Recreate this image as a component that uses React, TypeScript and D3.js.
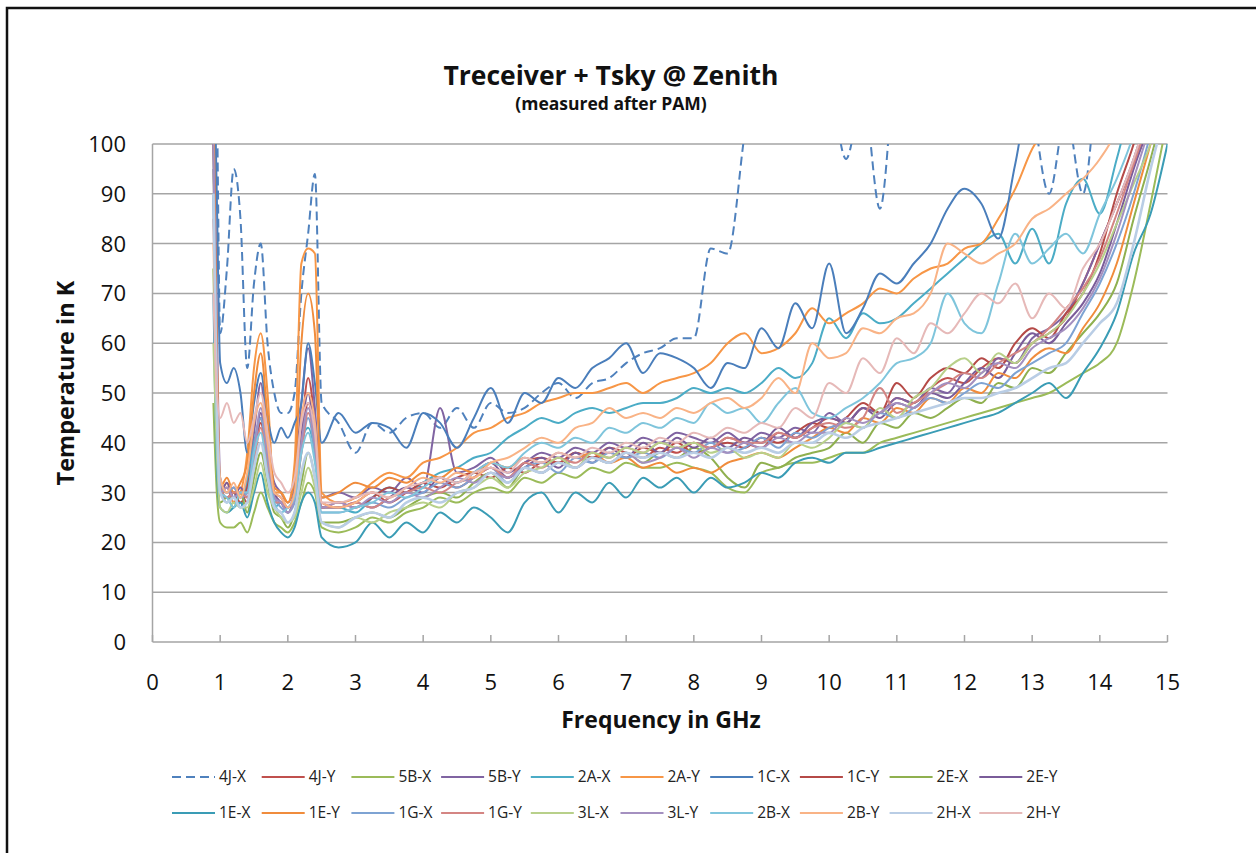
import * as d3 from 'd3';

// frequency grid in GHz (finer below 2.5 GHz where the RFI peaks sit)
const freq = [
  0.9, 0.95, 1.0, 1.1, 1.2, 1.3, 1.4, 1.5, 1.6, 1.7, 1.8, 1.9, 2.0, 2.1, 2.2, 2.3, 2.4, 2.5,
  2.75, 3.0, 3.25, 3.5, 3.75, 4.0, 4.25, 4.5, 4.75, 5.0, 5.25, 5.5, 5.75, 6.0, 6.25, 6.5, 6.75,
  7.0, 7.25, 7.5, 7.75, 8.0, 8.25, 8.5, 8.75, 9.0, 9.25, 9.5, 9.75, 10.0, 10.25, 10.5, 10.75,
  11.0, 11.25, 11.5, 11.75, 12.0, 12.25, 12.5, 12.75, 13.0, 13.25, 13.5, 13.75, 14.0, 14.25,
  14.5, 14.75, 15.0,
];

const t4JX = [130, 110, 62, 75, 95, 85, 55, 72, 80, 60, 50, 46, 46, 50, 70, 82, 94, 48,
  44, 38, 44, 42, 45, 46, 43, 47, 43, 48, 46, 47, 50, 52, 49, 52, 53, 56, 58, 59, 61, 61,
  79, 78, 102, 125, 130, 130, 130, 115, 97, 110, 87, 120, 130, 130, 130, 130, 130, 130,
  125, 108, 90, 106, 90, 118, 130, 130, 130, 130];
const t4JY = [105, 55, 30, 31, 28, 30, 28, 36, 45, 38, 30, 29, 27, 30, 42, 53, 44, 28,
  27, 28, 30, 28, 30, 32, 33, 31, 33, 35, 33, 36, 37, 36, 38, 37, 39, 38, 37, 39, 38, 40,
  39, 41, 40, 39, 42, 41, 43, 45, 44, 47, 46, 49, 48, 51, 53, 52, 55, 57, 56, 60, 62, 65,
  72, 80, 88, 96, 104, 115];
const t5BX = [48, 30, 24, 23, 23, 24, 22, 26, 30, 27, 24, 23, 22, 24, 28, 32, 30, 23,
  22, 23, 25, 24, 26, 27, 29, 28, 30, 31, 30, 33, 32, 34, 33, 35, 34, 36, 35, 35, 36, 35,
  34, 31, 30, 34, 35, 36, 36, 37, 38, 38, 40, 41, 42, 43, 44, 45, 46, 47, 48, 49, 50, 52,
  54, 56, 60, 72, 88, 105];
const t5BY = [115, 65, 33, 30, 31, 29, 33, 42, 52, 40, 32, 30, 28, 32, 48, 59, 47, 29,
  30, 29, 31, 30, 33, 31, 47, 34, 35, 37, 34, 36, 38, 37, 39, 38, 40, 39, 41, 40, 42, 41,
  40, 42, 40, 42, 41, 43, 42, 46, 44, 47, 46, 49, 48, 51, 50, 54, 53, 57, 56, 61, 63, 66,
  72, 80, 88, 97, 108, 120];
const t2AX = [100, 50, 32, 28, 30, 27, 32, 40, 45, 35, 27, 28, 26, 30, 40, 43, 38, 27,
  27, 26, 29, 31, 30, 32, 34, 35, 37, 38, 41, 43, 45, 44, 46, 47, 46, 47, 48, 48, 49, 51,
  50, 51, 50, 52, 55, 53, 56, 65, 61, 66, 64, 65, 68, 71, 74, 77, 80, 82, 76, 83, 76, 88,
  93, 86, 97, 110, 120, 130];
const t2AY = [95, 60, 30, 32, 28, 30, 38, 55, 62, 50, 30, 30, 28, 36, 76, 79, 78, 30,
  28, 29, 32, 34, 33, 36, 37, 39, 42, 43, 45, 46, 48, 49, 50, 50, 51, 52, 50, 52, 53, 54,
  56, 60, 62, 58, 59, 62, 67, 64, 66, 68, 71, 70, 73, 75, 76, 79, 80, 85, 91, 99, 104, 110,
  118, 125, 130, 130, 130, 130];
const t1CX = [125, 90, 56, 52, 55, 50, 38, 48, 54, 45, 40, 43, 41, 44, 48, 60, 52, 40,
  46, 42, 44, 43, 39, 46, 44, 39, 45, 51, 44, 50, 48, 53, 51, 55, 57, 60, 54, 58, 57, 55,
  51, 56, 55, 63, 59, 68, 63, 76, 62, 67, 74, 72, 76, 80, 87, 91, 88, 81, 96, 112, 104, 115,
  120, 125, 130, 130, 130, 130];
const t1CY = [100, 52, 31, 29, 30, 28, 31, 38, 44, 36, 29, 28, 26, 29, 40, 48, 41, 27,
  28, 27, 29, 31, 30, 32, 31, 33, 34, 33, 35, 34, 36, 36, 38, 37, 38, 37, 39, 38, 40, 38,
  39, 40, 39, 41, 40, 42, 44, 43, 45, 48, 46, 52, 49, 53, 55, 54, 57, 55, 60, 63, 61, 66,
  70, 78, 90, 100, 112, 125];
const t2EX = [75, 40, 28, 29, 27, 30, 26, 33, 38, 32, 26, 25, 23, 26, 32, 38, 33, 24,
  24, 25, 26, 25, 27, 29, 30, 29, 32, 34, 31, 35, 34, 36, 35, 37, 36, 38, 36, 38, 37, 39,
  37, 33, 31, 36, 35, 37, 38, 39, 42, 40, 44, 43, 46, 45, 47, 49, 48, 52, 51, 55, 54, 58,
  62, 66, 72, 85, 97, 110];
const t2EY = [90, 48, 30, 32, 29, 31, 29, 37, 46, 37, 30, 28, 27, 30, 42, 50, 40, 27,
  27, 28, 27, 29, 31, 30, 33, 32, 34, 36, 33, 35, 37, 35, 38, 36, 39, 37, 40, 38, 41, 39,
  41, 39, 41, 40, 43, 41, 44, 45, 44, 47, 45, 48, 47, 50, 49, 52, 55, 53, 58, 62, 60, 64,
  68, 74, 84, 95, 105, 118];
const t1EX = [70, 35, 27, 26, 27, 28, 25, 30, 34, 28, 24, 22, 21, 23, 28, 30, 28, 21,
  19, 20, 24, 21, 24, 22, 26, 24, 27, 25, 22, 28, 30, 26, 30, 28, 32, 29, 33, 31, 33, 30,
  33, 31, 32, 34, 33, 36, 37, 36, 38, 38, 39, 40, 41, 42, 43, 44, 45, 46, 48, 50, 52, 49,
  54, 59, 66, 78, 86, 100];
const t1EY = [110, 58, 31, 33, 30, 32, 36, 50, 58, 45, 31, 30, 28, 33, 60, 70, 62, 29,
  30, 32, 31, 33, 32, 34, 33, 35, 34, 36, 35, 37, 36, 38, 37, 38, 36, 37, 35, 36, 34, 35,
  34, 36, 37, 38, 37, 39, 41, 43, 42, 45, 44, 47, 46, 49, 48, 51, 50, 54, 53, 57, 59, 58,
  63, 68, 76, 88, 100, 112];
const t1GX = [95, 50, 32, 30, 31, 29, 30, 39, 45, 36, 29, 27, 26, 28, 38, 45, 38, 26,
  26, 27, 28, 27, 29, 30, 32, 31, 33, 35, 32, 35, 36, 34, 37, 36, 38, 37, 38, 37, 39, 38,
  40, 38, 39, 41, 39, 42, 41, 43, 44, 43, 46, 45, 47, 49, 48, 50, 52, 51, 54, 56, 58, 60,
  66, 72, 80, 90, 102, 115];
const t1GY = [85, 47, 31, 29, 30, 30, 29, 36, 43, 35, 28, 28, 27, 29, 38, 46, 40, 27,
  27, 28, 27, 29, 30, 31, 30, 32, 33, 35, 33, 36, 35, 37, 36, 38, 37, 39, 38, 40, 39, 40,
  39, 41, 40, 40, 42, 41, 43, 44, 43, 45, 51, 46, 48, 50, 52, 54, 53, 56, 58, 60, 63, 67,
  71, 77, 86, 96, 106, 118];
const t3LX = [60, 38, 27, 26, 28, 27, 27, 31, 36, 30, 27, 25, 24, 25, 30, 35, 31, 24,
  23, 25, 24, 26, 27, 28, 27, 30, 31, 33, 31, 34, 35, 37, 35, 38, 37, 39, 38, 40, 39, 40,
  38, 39, 37, 38, 37, 40, 39, 41, 44, 43, 47, 45, 49, 51, 55, 57, 54, 58, 56, 60, 62, 65,
  70, 76, 84, 92, 100, 112];
const t3LY = [100, 55, 30, 31, 29, 30, 30, 38, 47, 38, 29, 28, 26, 29, 40, 47, 40, 27,
  28, 27, 29, 28, 30, 29, 31, 33, 32, 34, 33, 35, 34, 36, 35, 37, 36, 38, 36, 37, 39, 37,
  39, 38, 40, 39, 41, 40, 42, 42, 45, 44, 46, 48, 47, 50, 52, 51, 54, 56, 55, 59, 61, 63,
  67, 73, 82, 93, 104, 116];
const t2BX = [90, 45, 30, 29, 27, 30, 30, 38, 42, 34, 28, 26, 27, 29, 38, 42, 36, 26,
  26, 27, 28, 30, 29, 31, 33, 32, 34, 36, 35, 38, 40, 39, 41, 40, 43, 42, 44, 43, 45, 44,
  48, 46, 47, 44, 48, 51, 46, 45, 47, 49, 52, 56, 57, 60, 70, 64, 62, 72, 82, 76, 79, 82,
  78, 86, 93, 102, 115, 125];
const t2BY = [80, 50, 33, 30, 32, 29, 34, 44, 48, 40, 30, 29, 27, 30, 45, 50, 44, 28,
  27, 28, 30, 29, 31, 33, 32, 34, 33, 36, 37, 39, 41, 40, 43, 44, 47, 45, 46, 45, 47, 46,
  48, 49, 47, 49, 53, 50, 60, 57, 58, 63, 62, 65, 66, 70, 80, 78, 76, 78, 80, 85, 87, 90,
  93, 97, 103, 115, 125, 130];
const t2HX = [90, 48, 30, 28, 29, 27, 28, 35, 40, 33, 27, 26, 24, 26, 34, 38, 33, 24,
  23, 25, 26, 25, 28, 29, 28, 30, 31, 34, 32, 35, 34, 36, 35, 37, 36, 38, 37, 38, 37, 38,
  37, 39, 38, 39, 38, 40, 40, 42, 41, 43, 44, 45, 46, 47, 48, 49, 49, 50, 51, 53, 55, 56,
  60, 64, 68, 80, 95, 108];
const t2HY = [70, 50, 45, 48, 44, 46, 40, 45, 50, 42, 34, 32, 30, 33, 44, 48, 42, 28,
  28, 29, 30, 29, 31, 32, 33, 32, 34, 35, 34, 37, 36, 38, 37, 39, 38, 40, 39, 41, 40, 42,
  41, 43, 42, 44, 43, 47, 45, 52, 50, 57, 54, 61, 58, 64, 62, 66, 70, 68, 72, 65, 70, 67,
  75, 80, 88, 97, 108, 120];

const names = ['4J-X', '4J-Y', '5B-X', '5B-Y', '2A-X', '2A-Y', '1C-X', '1C-Y', '2E-X', '2E-Y',
  '1E-X', '1E-Y', '1G-X', '1G-Y', '3L-X', '3L-Y', '2B-X', '2B-Y', '2H-X', '2H-Y'];
const values = [t4JX, t4JY, t5BX, t5BY, t2AX, t2AY, t1CX, t1CY, t2EX, t2EY,
  t1EX, t1EY, t1GX, t1GY, t3LX, t3LY, t2BX, t2BY, t2HX, t2HY];
const colors = ['#4f81bd', '#c0504d', '#9bbb59', '#8064a2', '#4bacc6', '#f79646',
  '#4a7ebb', '#b54a47', '#8fb04f', '#7a5c99', '#3a9cb5', '#f08c3c',
  '#7ea3d3', '#d48583', '#b8d08a', '#a490c0', '#7fc5dc', '#f9b386', '#b9cde5', '#e6b9b8'];

const yTicks = [0, 10, 20, 30, 40, 50, 60, 70, 80, 90, 100];
const xTicks = [0, 1, 2, 3, 4, 5, 6, 7, 8, 9, 10, 11, 12, 13, 14, 15];

const FONT = "'Open Sans', 'DejaVu Sans', sans-serif";

export default function App() {
  const width = 1256;
  const height = 853;
  const x = d3.scaleLinear().domain([0, 15]).range([152.5, 1167.5]);
  const y = d3.scaleLinear().domain([0, 100]).range([642, 144]);

  const line = d3.line<number>()
    .x((_, i) => x(freq[i]))
    .y(d => y(d))
    .curve(d3.curveMonotoneX);

  const gridColor = '#a5a5a5';

  return (
    <svg width={width} height={height} style={{ position: 'absolute', left: 0, top: 0, background: '#fff' }}
      fontFamily={FONT}>
      <defs>
        <clipPath id="plot">
          <rect x={x(0)} y={y(100)} width={x(15) - x(0)} height={y(0) - y(100)} />
        </clipPath>
      </defs>
      {/* outer frame (top and left edges only visible) */}
      <path d={`M7,${height} V8 H${width}`} fill="none" stroke="#111" strokeWidth={2.5} />

      <text x={611} y={85} textAnchor="middle" fontWeight="bold" fontSize={26.5} fill="#111">
        Treceiver + Tsky @ Zenith
      </text>
      <text x={611} y={110} textAnchor="middle" fontWeight="bold" fontSize={17.5} fill="#111">
        (measured after PAM)
      </text>

      {/* grid */}
      {yTicks.filter(t => t > 0).map(t => (
        <line key={t} x1={x(0)} x2={x(15)} y1={y(t)} y2={y(t)} stroke={gridColor} strokeWidth={1.5} />
      ))}
      <line x1={x(0)} x2={x(0)} y1={y(0)} y2={y(100)} stroke={gridColor} strokeWidth={1.5} />
      <line x1={x(0)} x2={x(15)} y1={y(0)} y2={y(0)} stroke={gridColor} strokeWidth={1.5} />
      {xTicks.map(t => (
        <line key={t} x1={x(t)} x2={x(t)} y1={y(0)} y2={y(0) - 7} stroke={gridColor} strokeWidth={1.5} />
      ))}

      {/* tick labels */}
      {yTicks.map(t => (
        <text key={t} x={126} y={y(t)} dy="0.36em" textAnchor="end" fontSize={22} fill="#111">{t}</text>
      ))}
      {xTicks.map(t => (
        <text key={t} x={x(t)} y={690} textAnchor="middle" fontSize={22} fill="#111">{t}</text>
      ))}

      <text x={661} y={728} textAnchor="middle" fontWeight="bold" fontSize={23} fill="#111">
        Frequency in GHz
      </text>
      <text transform="translate(74,383) rotate(-90)" textAnchor="middle" fontWeight="bold" fontSize={23.5} fill="#111">
        Temperature in K
      </text>

      {/* series */}
      <g clipPath="url(#plot)">
        {values.map((v, i) => (
          <path key={names[i]} d={line(v) || ''} fill="none" stroke={colors[i]}
            strokeWidth={names[i] === '2H-X' ? 2.6 : 2}
            strokeDasharray={i === 0 ? '9,5' : undefined}
            strokeLinejoin="round" />
        ))}
      </g>

      {/* legend */}
      {names.map((n, i) => {
        const col = i % 10;
        const row = Math.floor(i / 10);
        const lx = 172 + col * 89.7;
        const ly = row === 0 ? 777 : 813;
        return (
          <g key={n}>
            <line x1={lx} x2={lx + 43} y1={ly} y2={ly} stroke={colors[i]} strokeWidth={2}
              strokeDasharray={i === 0 ? '9,5' : undefined} />
            <text x={lx + 47} y={ly} dy="0.35em" fontSize={15.5} fill="#222">{n}</text>
          </g>
        );
      })}
    </svg>
  );
}
